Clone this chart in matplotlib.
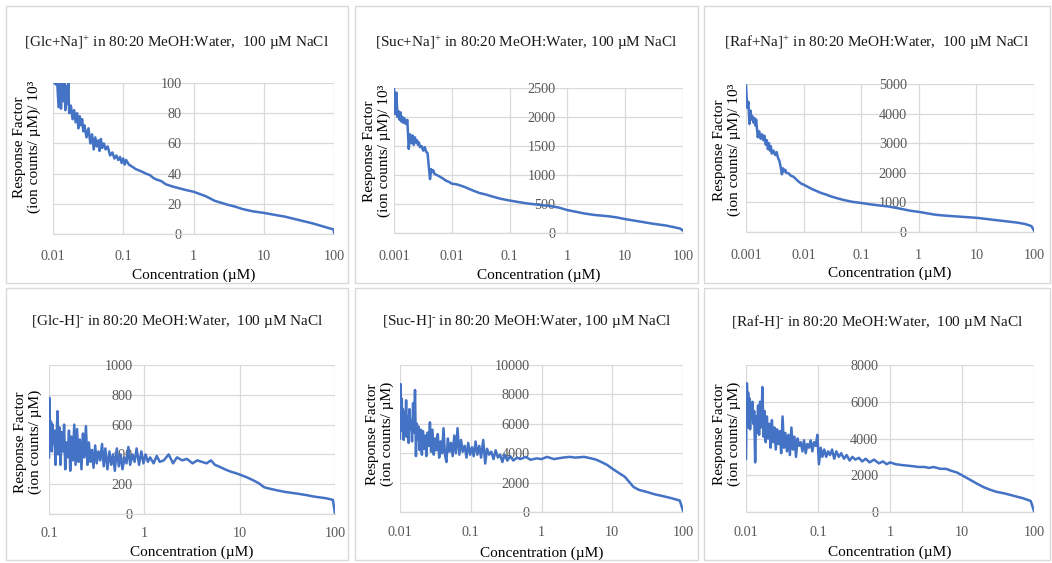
import matplotlib
matplotlib.use('Agg')
import matplotlib.pyplot as plt
from matplotlib.patches import Rectangle
from matplotlib.ticker import NullLocator

plt.rcParams['font.family'] = ['Liberation Serif', 'DejaVu Serif']
plt.rcParams['mathtext.fontset'] = 'custom'
plt.rcParams['mathtext.rm'] = 'Liberation Serif'
plt.rcParams['mathtext.it'] = 'Liberation Serif'

# ---------------- data ----------------
glc_na_x = [0.0105, 0.011, 0.0115, 0.012, 0.0125, 0.013, 0.0135, 0.014, 0.0145, 0.015,
            0.0155, 0.016, 0.0165, 0.017, 0.018, 0.019, 0.020, 0.021, 0.022, 0.023,
            0.024, 0.025, 0.026, 0.027, 0.028, 0.030, 0.032, 0.034, 0.036, 0.038,
            0.040, 0.042, 0.044, 0.046, 0.048, 0.050, 0.053, 0.056, 0.060, 0.065,
            0.070, 0.075, 0.080, 0.085, 0.090, 0.095, 0.100, 0.105, 0.110, 0.120,
            0.130, 0.140, 0.150, 0.170, 0.190, 0.210, 0.240, 0.270, 0.300, 0.350,
            0.400, 0.500, 0.600, 0.800, 1.0, 1.5, 2.0, 3.0, 4.0, 5.0,
            7.0, 10, 15, 20, 30, 50, 70, 90, 99, 100]
glc_na_y = [100, 99, 100, 84, 100, 83, 100, 88, 100, 82,
            98, 86, 100, 80, 85, 76, 82, 74, 80, 70,
            78, 72, 76, 68, 72, 64, 70, 60, 66, 56,
            64, 58, 62, 55, 63, 57, 60, 56, 58, 52,
            54, 50, 52, 49, 51, 47, 50, 46, 49, 46,
            45, 44, 43, 42, 41, 40, 39, 37, 36, 35,
            33, 31.5, 30.5, 29, 28, 25, 22, 19.5, 18, 16.5,
            15, 14, 12.5, 11.5, 9.5, 7, 5, 3.5, 3, 1]

suc_na_x = [0.001, 0.00105, 0.0011, 0.00115, 0.0012, 0.00125, 0.0013, 0.00135, 0.0014, 0.00145,
            0.0015, 0.0016, 0.0017, 0.0018, 0.0019, 0.0020, 0.0021, 0.0022, 0.0023, 0.0024,
            0.0025, 0.0026, 0.0027, 0.0028, 0.0030, 0.0032, 0.0034, 0.0036, 0.0038, 0.0040,
            0.0042, 0.0044, 0.0046, 0.0048, 0.0050, 0.0055, 0.0060, 0.0065, 0.0070, 0.0080,
            0.0090, 0.010, 0.012, 0.014, 0.017, 0.020, 0.025, 0.030, 0.040, 0.050,
            0.070, 0.10, 0.15, 0.20, 0.30, 0.50, 0.70, 1.0, 1.5, 2.0,
            3.0, 5.0, 7.0, 10, 15, 20, 30, 50, 70, 90, 100]
suc_na_y = [2500, 2050, 2420, 2000, 2100, 1950, 2080, 1920, 2000, 1900,
            1980, 1880, 1950, 1450, 1700, 1550, 1680, 1520, 1650, 1560,
            1600, 1520, 1560, 1480, 1500, 1420, 1480, 1400, 1380, 1150,
            930, 1100, 1050, 1080, 1020, 1000, 980, 960, 940, 900,
            880, 850, 840, 820, 790, 760, 720, 690, 660, 630,
            590, 560, 530, 510, 490, 465, 440, 395, 360, 335,
            310, 290, 270, 240, 210, 190, 160, 130, 100, 75, 40]

raf_na_x = [0.001, 0.00105, 0.0011, 0.00115, 0.0012, 0.00125, 0.0013, 0.00135, 0.0014, 0.00145,
            0.0015, 0.0016, 0.0017, 0.0018, 0.0019, 0.0020, 0.0021, 0.0022, 0.0023, 0.0024,
            0.0025, 0.0026, 0.0027, 0.0028, 0.0030, 0.0032, 0.0034, 0.0036, 0.0038, 0.0040,
            0.0042, 0.0044, 0.0046, 0.0048, 0.0050, 0.0055, 0.0060, 0.0065, 0.0070, 0.0080,
            0.0090, 0.010, 0.012, 0.014, 0.017, 0.020, 0.025, 0.030, 0.040, 0.050,
            0.070, 0.10, 0.15, 0.20, 0.30, 0.50, 0.70, 1.0, 1.5, 2.0,
            3.0, 5.0, 7.0, 10, 15, 20, 30, 50, 70, 90, 100]
raf_na_y = [4950, 4200, 4400, 3650, 4100, 3800, 3900, 3700, 3850, 3600,
            3800, 3200, 3400, 3150, 3300, 3100, 3250, 2950, 3100, 2800,
            3000, 2750, 2900, 2650, 2750, 2600, 2700, 2500, 2400, 2200,
            1950, 2150, 2050, 2100, 2000, 1980, 1900, 1880, 1830, 1720,
            1640, 1600, 1520, 1450, 1380, 1320, 1260, 1200, 1130, 1080,
            1020, 980, 930, 900, 860, 780, 720, 680, 620, 580,
            550, 520, 500, 480, 440, 410, 370, 320, 270, 200, 50]

glc_h_x = [0.100, 0.101, 0.103, 0.105, 0.107, 0.109, 0.111, 0.114, 0.117, 0.120,
           0.123, 0.126, 0.129, 0.132, 0.136, 0.140, 0.144, 0.148, 0.152, 0.157,
           0.162, 0.167, 0.172, 0.178, 0.184, 0.190, 0.197, 0.204, 0.211, 0.219,
           0.227, 0.235, 0.244, 0.253, 0.262, 0.272, 0.282, 0.293, 0.305, 0.317,
           0.330, 0.345, 0.360, 0.375, 0.390, 0.410, 0.430, 0.450, 0.470, 0.490,
           0.515, 0.540, 0.565, 0.590, 0.620, 0.650, 0.680, 0.710, 0.750, 0.790,
           0.830, 0.880, 0.930, 0.980, 1.03, 1.09, 1.15, 1.25, 1.35, 1.45,
           1.6, 1.8, 2.0, 2.2, 2.5, 2.8, 3.2, 3.6, 4.0, 4.5,
           5.0, 5.5, 6.0, 7.0, 8.0, 9.0, 10, 12, 14, 16,
           18, 20, 25, 30, 40, 50, 60, 80, 95, 100]
glc_h_y = [380, 780, 480, 620, 420, 600, 470, 560, 330, 520,
           690, 400, 580, 330, 550, 420, 600, 300, 480, 380,
           560, 290, 520, 360, 600, 330, 570, 350, 500, 300,
           540, 380, 590, 330, 480, 350, 430, 310, 460, 340,
           420, 360, 470, 320, 440, 300, 420, 330, 400, 290,
           440, 320, 400, 300, 380, 340, 450, 330, 400, 350,
           440, 330, 420, 340, 400, 350, 380, 340, 390, 350,
           360, 400, 340, 380, 360, 370, 340, 360, 350, 340,
           360, 330, 320, 300, 285, 275, 265, 245, 225, 205,
           180, 172, 158, 148, 137, 127, 117, 106, 95, 0]

suc_h_x = [0.0100, 0.0102, 0.0104, 0.0106, 0.0108, 0.0110, 0.0113, 0.0116, 0.0119, 0.0122,
           0.0125, 0.0128, 0.0132, 0.0136, 0.0140, 0.0144, 0.0148, 0.0153, 0.0158, 0.0163,
           0.0168, 0.0173, 0.0178, 0.0184, 0.0190, 0.0197, 0.0204, 0.0211, 0.0219, 0.0227,
           0.0236, 0.0245, 0.0255, 0.0265, 0.0275, 0.0287, 0.0300, 0.0313, 0.0327, 0.0342,
           0.0358, 0.0375, 0.0393, 0.0412, 0.0432, 0.0453, 0.0475, 0.0500, 0.0527, 0.0555,
           0.0585, 0.0617, 0.0650, 0.0690, 0.0730, 0.0770, 0.0820, 0.0870, 0.0920, 0.0980,
           0.104, 0.110, 0.117, 0.124, 0.132, 0.140, 0.150, 0.160, 0.170, 0.182,
           0.195, 0.210, 0.225, 0.242, 0.260, 0.280, 0.300, 0.330, 0.360, 0.400,
           0.450, 0.500, 0.600, 0.700, 0.850, 1.00, 1.20, 1.50, 2.00, 2.50,
           3.0, 4.0, 5.0, 6.0, 7.0, 8.5, 10, 12, 15, 17,
           20, 24, 30, 40, 50, 70, 90, 100]
suc_h_y = [5000, 8700, 6000, 7700, 5500, 7000, 4900, 6800, 5200, 7600,
           5100, 6500, 4700, 7000, 5600, 6200, 4800, 7400, 5400, 8300,
           3800, 6000, 4900, 5800, 4200, 5600, 3900, 5500, 4300, 5200,
           3800, 5400, 4500, 6100, 4100, 5600, 3900, 5000, 4200, 5300,
           3700, 4800, 4000, 5700, 3900, 3400, 5000, 4100, 4700, 3800,
           5200, 4000, 5700, 3900, 4900, 4100, 4500, 3700, 4700, 3900,
           4400, 3800, 4800, 3900, 4500, 3700, 4900, 3300, 4300, 3900,
           4100, 3600, 4200, 3700, 3900, 3400, 3900, 3500, 3800, 3500,
           3700, 3600, 3750, 3550, 3650, 3600, 3750, 3600, 3700, 3750,
           3700, 3750, 3650, 3550, 3400, 3200, 2950, 2700, 2400, 2100,
           1700, 1500, 1380, 1200, 1100, 930, 780, 100]

raf_h_x = [0.0100, 0.0101, 0.0103, 0.0105, 0.0107, 0.0109, 0.0111, 0.0114, 0.0117, 0.0120,
           0.0123, 0.0126, 0.0130, 0.0134, 0.0138, 0.0142, 0.0147, 0.0152, 0.0157, 0.0163,
           0.0169, 0.0175, 0.0181, 0.0188, 0.0195, 0.0203, 0.0211, 0.0220, 0.0229, 0.0238,
           0.0248, 0.0259, 0.0270, 0.0282, 0.0295, 0.0308, 0.0322, 0.0337, 0.0353, 0.0370,
           0.0388, 0.0407, 0.0427, 0.0448, 0.0470, 0.0495, 0.0520, 0.0548, 0.0577, 0.0608,
           0.0640, 0.0675, 0.0712, 0.0750, 0.0790, 0.0835, 0.0880, 0.0930, 0.0980, 0.1030,
           0.109, 0.115, 0.122, 0.130, 0.138, 0.147, 0.157, 0.168, 0.180, 0.195,
           0.210, 0.230, 0.250, 0.275, 0.300, 0.330, 0.370, 0.410, 0.460, 0.520,
           0.600, 0.700, 0.800, 0.900, 1.00, 1.20, 1.50, 2.00, 2.50, 3.0,
           3.5, 4.0, 4.5, 5.0, 6.0, 7.0, 8.5, 10, 13, 16,
           20, 25, 30, 40, 50, 70, 90, 100]
raf_h_y = [2900, 4600, 7000, 5000, 6500, 4600, 6200, 4500, 5800, 5100,
           6000, 4800, 5500, 2700, 5200, 4300, 5800, 4200, 6000, 4600,
           6800, 4100, 5500, 3800, 5200, 4000, 4800, 3500, 5000, 3800,
           4600, 3400, 4500, 3700, 4400, 3200, 5200, 3500, 4300, 3300,
           4200, 3100, 4600, 3400, 4100, 3000, 4000, 3600, 3800, 3300,
           3900, 3200, 3700, 3500, 3900, 3300, 3800, 3600, 4200, 2600,
           3500, 3000, 3400, 3000, 3300, 3100, 3400, 2900, 3300, 3000,
           3200, 2900, 3100, 2800, 3000, 2850, 2950, 2750, 2900, 2700,
           2850, 2650, 2750, 2600, 2700, 2600, 2550, 2500, 2450, 2450,
           2400, 2450, 2400, 2350, 2350, 2250, 2150, 2000, 1750, 1550,
           1350, 1200, 1100, 1000, 900, 750, 600, 50]

titles = ['[Glc+Na]$^{+}$ in 80:20 MeOH:Water,  100 µM NaCl',
          '[Suc+Na]$^{+}$ in 80:20 MeOH:Water, 100 µM NaCl',
          '[Raf+Na]$^{+}$ in 80:20 MeOH:Water,  100 µM NaCl',
          '[Glc-H]$^{\u2010}$ in 80:20 MeOH:Water,  100 µM NaCl',
          '[Suc-H]$^{\u2010}$ in 80:20 MeOH:Water, 100 µM NaCl',
          '[Raf-H]$^{\u2010}$ in 80:20 MeOH:Water,  100 µM NaCl']
ylabel_top = 'Response Factor\n(ion counts/ µM)/ 10³'
ylabel_bottom = 'Response Factor\n(ion counts/ µM)'
xlabel = 'Concentration (µM)'

x_ticks_001 = [0.001, 0.01, 0.1, 1, 10, 100]
x_labels_001 = ['0.001', '0.01', '0.1', '1', '10', '100']
x_ticks_01 = [0.01, 0.1, 1, 10, 100]
x_labels_01 = ['0.01', '0.1', '1', '10', '100']
x_ticks_1 = [0.1, 1, 10, 100]
x_labels_1 = ['0.1', '1', '10', '100']

y_ticks_glc_na = [0, 20, 40, 60, 80, 100]
y_ticks_suc_na = [0, 500, 1000, 1500, 2000, 2500]
y_ticks_raf_na = [0, 1000, 2000, 3000, 4000, 5000]
y_ticks_glc_h = [0, 200, 400, 600, 800, 1000]
y_ticks_suc_h = [0, 2000, 4000, 6000, 8000, 10000]
y_ticks_raf_h = [0, 2000, 4000, 6000, 8000]

# ---------------- layout ----------------
W, H = 1052, 563
fig = plt.figure(figsize=(W / 100, H / 100), dpi=100)
fig.patch.set_facecolor('white')

LINE = '#4472C4'
GRID = '#D9D9D9'
TICKC = '#595959'

panels = [
    dict(box=(6, 6, 348, 283), plot=(53, 83, 334, 234), x=glc_na_x, y=glc_na_y,
         xt=x_ticks_01, xl=x_labels_01, yt=y_ticks_glc_na, title=titles[0], yl=ylabel_top,
         ty=43, ylx=27, yly=147, xly=275, tly=257),
    dict(box=(355, 6, 698, 283), plot=(394, 88, 683, 233), x=suc_na_x, y=suc_na_y,
         xt=x_ticks_001, xl=x_labels_001, yt=y_ticks_suc_na, title=titles[1], yl=ylabel_top,
         ty=43, ylx=377, yly=151, xly=275, tly=257),
    dict(box=(704, 6, 1050, 283), plot=(746, 84, 1034, 232), x=raf_na_x, y=raf_na_y,
         xt=x_ticks_001, xl=x_labels_001, yt=y_ticks_raf_na, title=titles[2], yl=ylabel_top,
         ty=43, ylx=727, yly=150, xly=273, tly=256),
    dict(box=(6, 288, 348, 560), plot=(49, 365, 335, 514), x=glc_h_x, y=glc_h_y,
         xt=x_ticks_1, xl=x_labels_1, yt=y_ticks_glc_h, title=titles[3], yl=ylabel_bottom,
         ty=322, ylx=28, yly=442, xly=552, tly=534),
    dict(box=(355, 288, 698, 560), plot=(400, 365, 683, 512), x=suc_h_x, y=suc_h_y,
         xt=x_ticks_01, xl=x_labels_01, yt=y_ticks_suc_h, title=titles[4], yl=ylabel_bottom,
         ty=322, ylx=380, yly=434, xly=553, tly=533),
    dict(box=(704, 288, 1050, 560), plot=(746, 365, 1034, 512), x=raf_h_x, y=raf_h_y,
         xt=x_ticks_01, xl=x_labels_01, yt=y_ticks_raf_h, title=titles[5], yl=ylabel_bottom,
         ty=322, ylx=727, yly=434, xly=552, tly=533),
]

for p in panels:
    assert len(p['x']) == len(p['y'])
    bl, bt, br, bb = p['box']
    fig.add_artist(Rectangle((bl / W, 1 - bb / H), (br - bl) / W, (bb - bt) / H,
                             transform=fig.transFigure, fill=False, ec=GRID, lw=1.0))
    l, t, r, b = p['plot']
    ax = fig.add_axes([l / W, 1 - b / H, (r - l) / W, (b - t) / H])
    ax.set_xscale('log')
    ax.set_xlim(p['xt'][0], p['xt'][-1])
    ax.set_ylim(0, p['yt'][-1])
    ax.set_xticks(p['xt'])
    ax.set_xticklabels(p['xl'])
    ax.xaxis.set_minor_locator(NullLocator())
    ax.set_yticks(p['yt'])
    ax.set_yticklabels([str(v) for v in p['yt']])
    ax.grid(True, color=GRID, lw=0.9)
    ax.set_axisbelow(True)
    for s in ['top', 'right']:
        ax.spines[s].set_visible(False)
    ax.spines['left'].set_position(('data', 1))
    ax.spines['left'].set_visible(False)
    ax.spines['bottom'].set_color(GRID)
    ax.spines['bottom'].set_linewidth(0.9)
    pad_x = max(0, (p['tly'] - b - 7)) * 0.72
    ax.tick_params(axis='x', length=0, labelcolor=TICKC, labelsize=10.3, pad=pad_x)
    ax.tick_params(axis='y', length=0, labelcolor=TICKC, labelsize=10.3, pad=8.5)
    ax.plot(p['x'], p['y'], color=LINE, lw=1.8, solid_joinstyle='round')
    ax.set_facecolor('none')

    cx = (bl + br) / 2
    fig.text(cx / W, 1 - p['ty'] / H, p['title'], ha='center', va='center',
             fontsize=11, color='#1a1a1a')
    fig.text(p['ylx'] / W, 1 - p['yly'] / H, p['yl'], ha='center', va='center',
             rotation=90, fontsize=11, multialignment='center', linespacing=1.12)
    fig.text(((l + r) / 2) / W, 1 - p['xly'] / H, xlabel, ha='center', va='center',
             fontsize=11)

fig.savefig('out.png', dpi=100)
